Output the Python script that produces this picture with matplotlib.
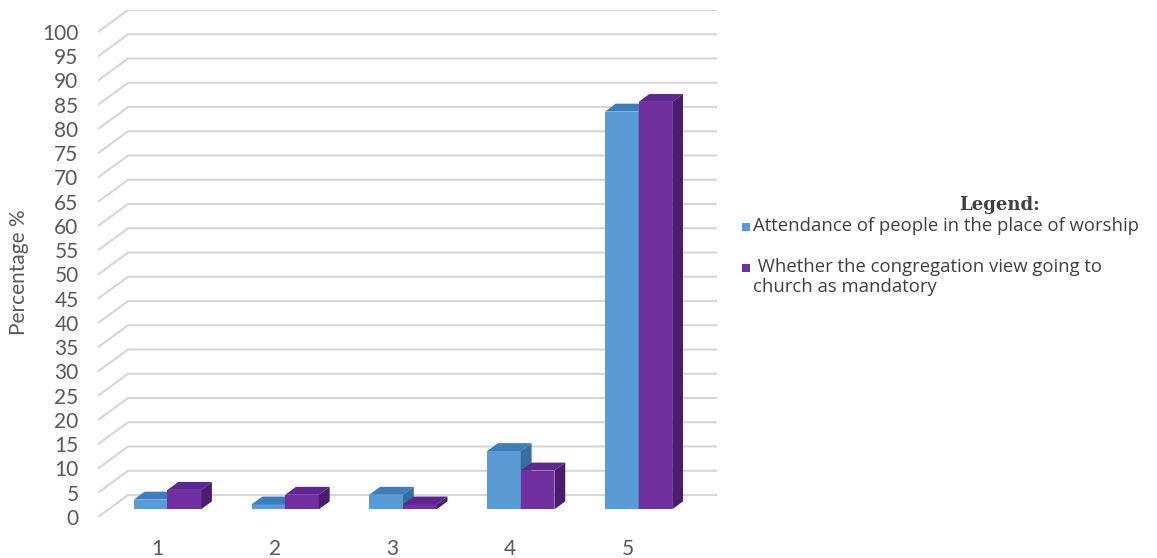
import matplotlib
matplotlib.use('Agg')
import matplotlib.pyplot as plt
from matplotlib.patches import Polygon, Rectangle

# survey results, percent per answer option
categories = [1, 2, 3, 4, 5]
attendance = [2, 1, 3, 12, 82]
mandatory = [4, 3, 1, 8, 84]
series_names = ['Attendance of people in the place of worship',
                ' Whether the congregation view going to\nchurch as mandatory']
y_ticks = list(range(0, 101, 5))

# face colours: front, top, side
blue = ('#5b9bd5', '#3d7dbb', '#3a6d9f')
purple = ('#7030a0', '#5f2691', '#4a1c70')
grid_col = '#d6d6d6'
text_col = '#595959'

plt.rcParams['font.family'] = ['Lato', 'DejaVu Sans']

W, H = 1157, 558
fig = plt.figure(figsize=(W / 100, H / 100), dpi=100)
ax = fig.add_axes([98 / W, 41 / H, 619 / W, 507 / H])

# fake 3d: offset of the back wall from the front plane (data units)
ddx, ddy = 0.2553, 4.536
bar_w = 1 / 3.5          # 150% gap width
d0, d1 = 0.35, 0.71      # bar front / back depth

def proj(x, y, d):
    return (x + d * ddx, y + d * ddy)

# walls: left wall diagonals + back wall gridlines
for v in y_ticks:
    pts = [proj(0.5, v, 0), proj(0.5, v, 1), proj(5.5, v, 1)]
    ax.plot([p[0] for p in pts], [p[1] for p in pts], color=grid_col,
            lw=1.5, zorder=1, solid_capstyle='butt')

# bars
for s, (vals, cols) in enumerate([(attendance, blue), (mandatory, purple)]):
    xs = [c + (s - 0.5) * bar_w for c in categories]
    ax.bar([x + d0 * ddx for x in xs], vals, width=bar_w, bottom=d0 * ddy,
           color=cols[0], zorder=2 + s, linewidth=0)
    for x, v in zip(xs, vals):
        l, r = x - bar_w / 2, x + bar_w / 2
        top = [proj(l, v, d0), proj(r, v, d0), proj(r, v, d1), proj(l, v, d1)]
        side = [proj(r, 0, d0), proj(r, v, d0), proj(r, v, d1), proj(r, 0, d1)]
        ax.add_patch(Polygon(top, closed=True, fc=cols[1], ec='none', zorder=2 + s))
        ax.add_patch(Polygon(side, closed=True, fc=cols[2], ec='none', zorder=2 + s))

ax.set_xlim(0.5, 5.5 + ddx)
ax.set_ylim(0, 100 + ddy)
for sp in ax.spines.values():
    sp.set_visible(False)
ax.set_yticks(y_ticks)
ax.set_xticks(categories)
ax.set_xticklabels([str(c) for c in categories])
ax.tick_params(axis='y', length=0, pad=14, labelsize=15, labelcolor=text_col)
ax.tick_params(axis='x', length=0, pad=16, labelsize=15, labelcolor=text_col)

fig.text(19 / W, 1 - 272 / H, 'Percentage %', rotation=90, ha='center',
         va='center', fontsize=15, color=text_col)

# legend, laid out by hand so the square sits on the first line of each entry
fig.text(1000 / W, 1 - 205 / H, 'Legend:', ha='center', va='center',
         fontsize=13, fontweight='bold', family='DejaVu Serif', color='#404040')
for (name, cols, y) in zip(series_names, (blue, purple), (227, 268)):
    fig.add_artist(Rectangle((742 / W, 1 - (y + 4) / H), 8 / W, 8 / H,
                             transform=fig.transFigure, fc=cols[0], ec='none'))
    fig.text(753 / W, 1 - (y - 10) / H, name, ha='left', va='top', fontsize=13.3,
             family='Open Sans', color='#404040', linespacing=1.15)

fig.savefig('out.png', dpi=100)
